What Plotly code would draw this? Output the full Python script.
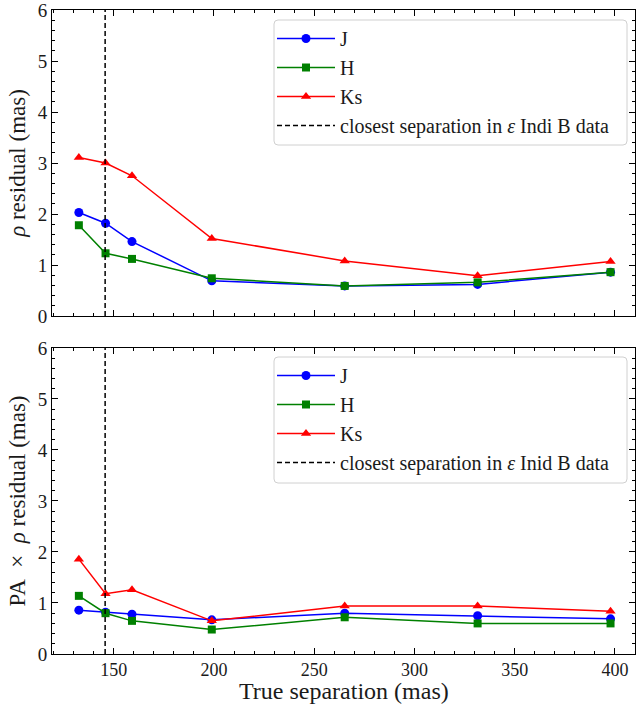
import plotly.graph_objects as go
from plotly.subplots import make_subplots

# True separations (mas) of the injected companions
separation = [132.6, 145.9, 159.1, 198.9, 265.2, 331.5, 397.8]
closest_sep = 145.7

# Separation (rho) residuals, mas
rho_J = [2.03, 1.82, 1.46, 0.69, 0.59, 0.62, 0.86]
rho_H = [1.78, 1.23, 1.12, 0.74, 0.59, 0.66, 0.86]
rho_Ks = [3.11, 3.00, 2.75, 1.52, 1.08, 0.79, 1.07]

# PA x rho residuals, mas
pa_J = [0.86, 0.82, 0.78, 0.67, 0.80, 0.75, 0.69]
pa_H = [1.14, 0.80, 0.65, 0.48, 0.72, 0.60, 0.60]
pa_Ks = [1.86, 1.18, 1.26, 0.65, 0.94, 0.94, 0.84]

FONT = "Liberation Serif"
TXT = "#1a1a1a"
W, H = 636, 704
ML, MR, MT, MB = 52, 1, 10, 50
PW, PH = W - ML - MR, H - MT - MB

fig = make_subplots(rows=2, cols=1, shared_xaxes=True, vertical_spacing=0.0496)

series = [
    ("J", "#0000ff", "circle", 9),
    ("H", "#008000", "square", 8),
    ("Ks", "#ff0000", "triangle-up", 9),
]

for row, (vals, leg, note) in enumerate(
    [((rho_J, rho_H, rho_Ks), "legend", "closest separation in <i>ε</i> Indi B data"),
     ((pa_J, pa_H, pa_Ks), "legend2", "closest separation in <i>ε</i> Inid B data")], start=1):
    for (name, color, sym, size), y in zip(series, vals):
        fig.add_trace(go.Scatter(
            x=separation, y=y, name=name, mode="lines+markers",
            line=dict(color=color, width=1.5),
            marker=dict(symbol=sym, size=size, color=color),
            legend=leg), row=row, col=1)
    fig.add_trace(go.Scatter(
        x=[closest_sep, closest_sep], y=[0, 6], name=note, mode="lines",
        line=dict(color="black", width=1.5, dash="5px,3px"),
        legend=leg), row=row, col=1)

axis_common = dict(
    showline=True, linecolor="black", linewidth=1, mirror="allticks",
    ticks="inside", ticklen=6, tickwidth=1, tickcolor="black",
    showgrid=False, zeroline=False, ticklabeloverflow="allow",
    tickfont=dict(family=FONT, size=19, color=TXT),
)

for r in (1, 2):
    fig.update_xaxes(range=[119.2, 410], dtick=50,
                     minor=dict(ticks="inside", dtick=10, ticklen=3, tickcolor="black"),
                     row=r, col=1, **axis_common)
    fig.update_yaxes(range=[0, 6], dtick=1,
                     minor=dict(ticks="inside", dtick=0.2, ticklen=3, tickcolor="black"),
                     row=r, col=1, **axis_common)

fig.update_xaxes(showticklabels=False, row=1, col=1)
fig.update_xaxes(tickfont=dict(family=FONT, size=18, color=TXT),
                 ticklabelstandoff=-1, row=2, col=1)
fig.update_yaxes(title=dict(text="<i>ρ</i> residual (mas)",
                            font=dict(family=FONT, size=23, color=TXT), standoff=5),
                 row=1, col=1)
fig.update_yaxes(title=dict(text="PA\u2002×\u2002<i>ρ</i> residual (mas)",
                            font=dict(family=FONT, size=23, color=TXT), standoff=5),
                 row=2, col=1)


def px_x(p):
    return (p - ML) / PW


def px_y(p):
    return (H - MB - p) / PH


fig.add_annotation(text="True separation (mas)", xref="paper", yref="paper",
                   x=0.5, y=px_y(691), xanchor="center", yanchor="middle",
                   showarrow=False, font=dict(family=FONT, size=24, color=TXT))


def rounded_box(x0, y0, x1, y1, r=4):
    """Rounded rectangle path in paper coords from pixel corners."""
    pts = [
        f"M {px_x(x0 + r)},{px_y(y0)}",
        f"L {px_x(x1 - r)},{px_y(y0)}",
        f"Q {px_x(x1)},{px_y(y0)} {px_x(x1)},{px_y(y0 + r)}",
        f"L {px_x(x1)},{px_y(y1 - r)}",
        f"Q {px_x(x1)},{px_y(y1)} {px_x(x1 - r)},{px_y(y1)}",
        f"L {px_x(x0 + r)},{px_y(y1)}",
        f"Q {px_x(x0)},{px_y(y1)} {px_x(x0)},{px_y(y1 - r)}",
        f"L {px_x(x0)},{px_y(y0 + r)}",
        f"Q {px_x(x0)},{px_y(y0)} {px_x(x0 + r)},{px_y(y0)}",
        "Z",
    ]
    return " ".join(pts)


# Legend frames
for top, bottom in [(20, 145), (357, 483)]:
    fig.add_shape(type="path", xref="paper", yref="paper",
                  path=rounded_box(274, top, 627, bottom),
                  fillcolor="rgba(255,255,255,0.8)",
                  line=dict(color="#d0d0d0", width=1), layer="above")

legend_style = dict(
    xanchor="left", yanchor="top", x=px_x(272),
    bgcolor="rgba(0,0,0,0)", borderwidth=0,
    font=dict(family=FONT, size=20, color=TXT),
    itemwidth=58,
)
fig.update_layout(
    width=W, height=H,
    margin=dict(l=ML, r=MR, t=MT, b=MB),
    plot_bgcolor="white", paper_bgcolor="white",
    legend=dict(y=px_y(19), **legend_style),
    legend2=dict(y=px_y(356), **legend_style),
)

fig.write_html("out.html")
